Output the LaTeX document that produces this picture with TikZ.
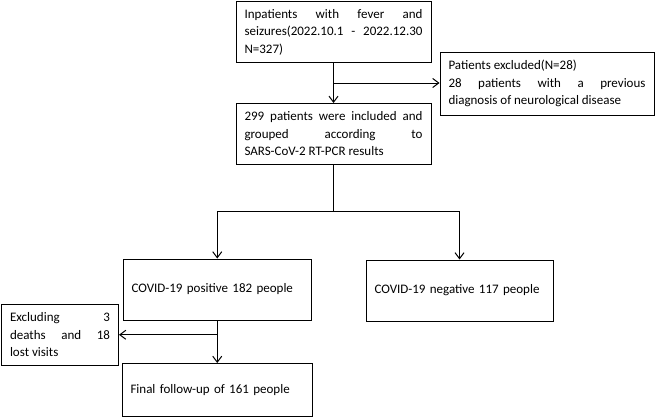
\documentclass[tikz,border=0pt]{standalone}
\usepackage{fontspec}
\setmainfont{Carlito}
\usetikzlibrary{arrows.meta,calc}
\hyphenpenalty=10000
\exhyphenpenalty=10000
\begin{document}
\begin{tikzpicture}[x=1pt,y=-1pt,
  box/.style={draw,line width=1pt,rectangle,inner xsep=8.5pt,inner ysep=0pt,
    font=\fontsize{13}{17.5}\selectfont},
  jbox/.style={box,align=justify},
  lbox/.style={box,align=left},
  conn/.style={line width=1pt},
  arr/.style={conn,-{Straight Barb[length=6pt,width=9pt,line width=1pt]}}]
\useasboundingbox (0,0) rectangle (669,418);
\node[jbox,minimum width=195pt,minimum height=61pt,text width=178pt] (b1) at (333.5,32)
  {Inpatients with fever and\linebreak seizures(2022.10.1 - 2022.12.30\linebreak N=327)};
\node[jbox,minimum width=214pt,minimum height=63pt,text width=197pt] (ex) at (547,83.5)
  {Patients excluded(N=28)\\ 28 patients with a previous\linebreak diagnosis of neurological disease};
\node[jbox,minimum width=195pt,minimum height=60.5pt,text width=178pt] (b2) at (333.5,133.75)
  {299 patients were included and\linebreak grouped according to\linebreak SARS-CoV-2 RT-PCR results};
\node[lbox,minimum width=188.5pt,minimum height=61pt,text width=171.5pt] (pos) at (217.25,289.5)
  {COVID-19 positive 182 people};
\node[lbox,minimum width=187pt,minimum height=61pt,text width=170pt] (neg) at (459.5,290.5)
  {COVID-19 negative 117 people};
\node[jbox,minimum width=117pt,minimum height=61.5pt,text width=100pt] (exc) at (60,334.75)
  {Excluding 3\linebreak deaths and 18\linebreak lost visits};
\node[lbox,minimum width=190.5pt,minimum height=53pt,text width=173.5pt] (fin) at (217.25,390)
  {Final follow-up of 161 people};
\draw[arr] (b1.south) -- (b2.north);
\coordinate (m1) at ($(b1.south)!0.5!(b2.north)$);
\draw[arr] (m1) -- (m1 -| ex.west);
\coordinate (sp) at (333.5,211);
\draw[conn] (b2.south) -- (sp);
\draw[arr] (sp) -| (pos.north);
\draw[arr] (sp) -| (neg.north);
\draw[arr] (pos.south) -- (fin.north);
\coordinate (m2) at (pos.south |- exc.east);
\draw[arr] (m2) -- (exc.east);
\end{tikzpicture}
\end{document}
